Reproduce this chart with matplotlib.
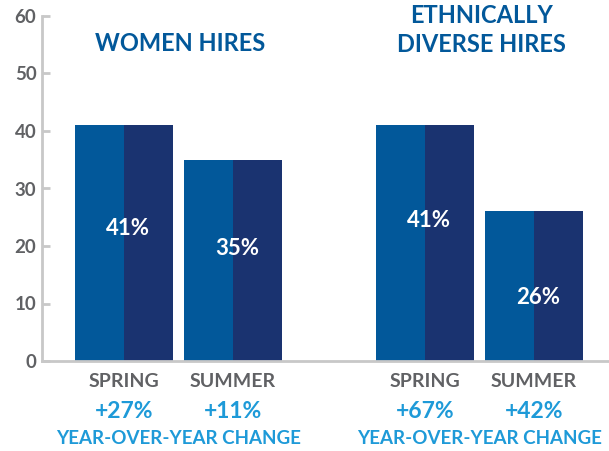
import matplotlib
matplotlib.use("Agg")
import matplotlib.pyplot as plt

groups = ["WOMEN HIRES", "ETHNICALLY\nDIVERSE HIRES"]
seasons = ["SPRING", "SUMMER"]
shares = [[41, 35], [41, 26]]
yoy_change = [["+27%", "+11%"], ["+67%", "+42%"]]
yoy_caption = "YEAR-OVER-YEAR CHANGE"
y_ticks = [0, 10, 20, 30, 40, 50, 60]
label_y = [[23, 19.5], [24.5, 11]]

LIGHT = "#02589a"
DARK = "#1a3370"
CYAN = "#1e9ad8"
GREY = "#606164"
AXIS = "#c8c8c8"

plt.rcParams["font.family"] = ["Lato", "DejaVu Sans"]
plt.rcParams["font.weight"] = "bold"

fig = plt.figure(figsize=(6.09, 4.51), dpi=100)
ax = fig.add_axes([42 / 609, 90 / 451, 567 / 609, 345 / 451])

# bar centres in pixel units from the y axis
centres = [[82, 191], [383, 492]]
width = 98

for g in range(len(groups)):
    for s in range(len(seasons)):
        x = centres[g][s]
        v = shares[g][s]
        ax.bar(x - width / 4, v, width / 2, color=LIGHT, linewidth=0)
        ax.bar(x + width / 4, v, width / 2, color=DARK, linewidth=0)
        ax.text(x + 4, label_y[g][s], f"{v}%", color="white", fontsize=16,
                ha="center", va="center", fontweight="bold")
        # season and change text under the axis
        ax.text(x, -3.6, seasons[s], color=GREY, fontsize=14,
                ha="center", va="center", fontweight="bold")
        ax.text(x, -8.8, yoy_change[g][s], color=CYAN, fontsize=16.5,
                ha="center", va="center", fontweight="bold")
    mid = (centres[g][0] + centres[g][1]) / 2
    ax.text(mid, -13.5, yoy_caption, color=CYAN, fontsize=13.5,
            ha="center", va="center", fontweight="bold")
    ax.text(mid + 2, 55.2 if g == 0 else 57.6, groups[g], color=LIGHT,
            fontsize=17, ha="center", va="center", fontweight="bold",
            linespacing=1.3)

ax.set_xlim(0, 567)
ax.set_ylim(0, 60)
ax.set_yticks(y_ticks)
ax.set_xticks([])
ax.tick_params(axis="y", direction="in", length=6, width=2, color=AXIS,
               labelsize=13.5, labelcolor=GREY, pad=4)
for side in ["top", "right"]:
    ax.spines[side].set_visible(False)
for side in ["left", "bottom"]:
    ax.spines[side].set_color(AXIS)
    ax.spines[side].set_linewidth(2)
ax.set_facecolor("none")

fig.savefig("out.png", dpi=100)
